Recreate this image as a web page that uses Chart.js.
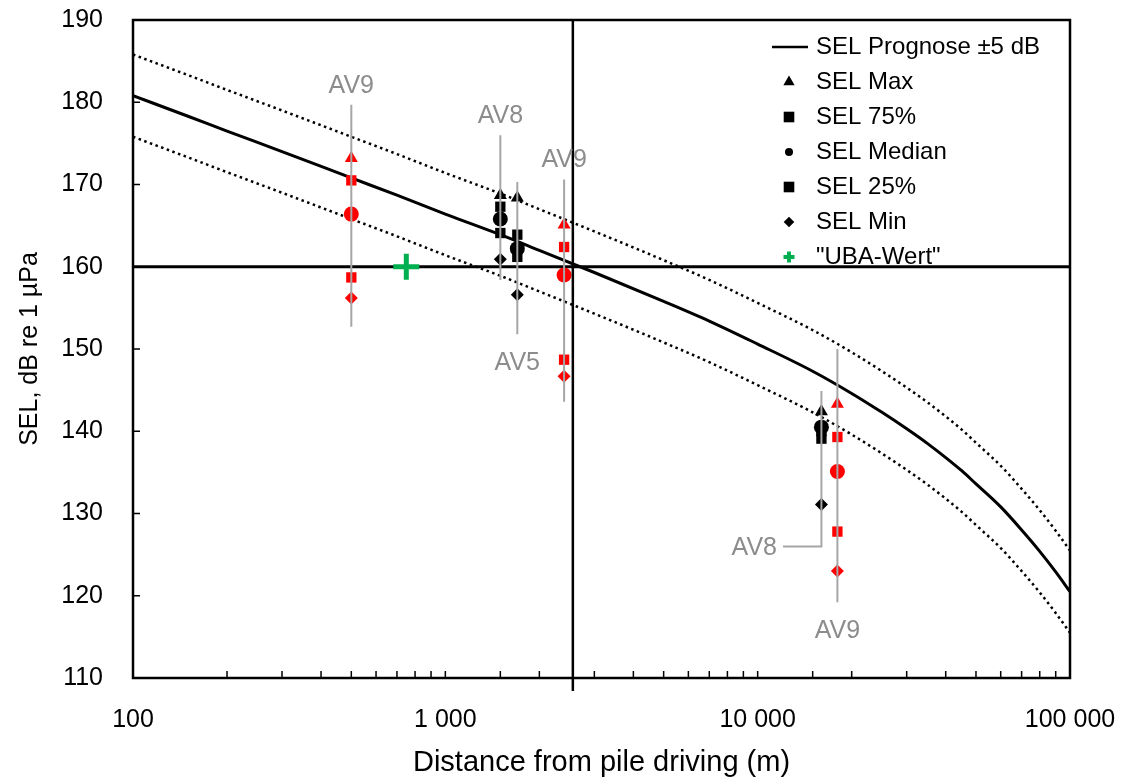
<!DOCTYPE html>
<html>
<head>
<meta charset="utf-8">
<script src="https://cdn.jsdelivr.net/npm/chart.js@4.4.0/dist/chart.umd.min.js"></script>
<style>
  html, body { margin: 0; padding: 0; background: #fff; }
</style>
</head>
<body>
<canvas id="chart" width="1128" height="780"></canvas>
<script>
// SEL prognosis curve (+/- 5 dB band)
const progDist  = [100, 150, 200, 300, 500, 700, 1000, 1500, 2000, 3000, 5000, 7000, 10000, 15000, 20000, 25000, 30000, 35000, 40000, 45000, 50000, 60000, 70000, 80000, 90000, 100000];
const progSel   = [180.8, 178.3, 176.5, 174.0, 170.8, 168.7, 166.4, 163.9, 162.0, 159.3, 155.8, 153.4, 150.6, 147.3, 144.6, 142.3, 140.3, 138.5, 136.8, 135.2, 133.6, 130.8, 128.0, 125.4, 122.9, 120.5];
const progUpper = [185.8, 183.3, 181.5, 179.0, 175.8, 173.7, 171.4, 168.9, 167.0, 164.3, 160.8, 158.4, 155.6, 152.3, 149.6, 147.3, 145.3, 143.5, 141.8, 140.2, 138.6, 135.8, 133.0, 130.4, 127.9, 125.5];
const progLower = [175.8, 173.3, 171.5, 169.0, 165.8, 163.7, 161.4, 158.9, 157.0, 154.3, 150.8, 148.4, 145.6, 142.3, 139.6, 137.3, 135.3, 133.5, 131.8, 130.2, 128.6, 125.8, 123.0, 120.4, 117.9, 115.5];

// measurements per campaign
const campaigns = ['AV9', 'AV8', 'AV5', 'AV9', 'AV8', 'AV9'];
const campDist  = [500, 1500, 1700, 2400, 16000, 18000];
const selMax    = [173.2, 168.7, 168.4, 165.1, 142.4, 143.3];
const sel75     = [170.5, 167.3, 163.9, 162.4, 140.0, 139.3];
const selMedian = [166.4, 165.8, 162.2, 159.0, 140.5, 135.1];
const sel25     = [158.7, 164.1, 161.2, 148.7, 139.1, 127.8];
const selMin    = [156.2, 160.9, 156.6, 146.7, 131.1, 123.0];

// grey range bars with the campaign names
const barTop    = [179.7, 176.0, 170.3, 170.6, 144.9, 150.0];
const barBottom = [152.7, 158.4, 151.8, 143.6, 126.0, 119.2];
const labelSide = ['top', 'top', 'bottom', 'top', 'left', 'bottom'];
const leaderEnd = 12050;

const ubaDist = [750];
const ubaSel  = [160];
const limitSel  = 160;
const limitDist = 2560;

const FONT = "'Liberation Sans', Arial, sans-serif";
const RED = '#ff0000';
const GREY = '#a6a6a6';

const pts = (xs, ys) => xs.map((x, i) => ({ x: x, y: ys[i] }));
const markColors = campaigns.map(c => c === 'AV9' ? RED : '#000000');

function markerSet(label, values, style, radius, legendRadius) {
  return {
    label: label,
    data: pts(campDist, values),
    pointStyle: style,
    pointRadius: radius,
    pointBackgroundColor: markColors,
    pointBorderColor: markColors,
    pointBorderWidth: 0,
    showLine: false,
    order: 5,
    legendStyle: style,
    legendRadius: legendRadius
  };
}

const datasets = [];

// range bars (drawn over the markers, as in the original)
campaigns.forEach((c, i) => {
  const d = [{ x: campDist[i], y: barTop[i] }, { x: campDist[i], y: barBottom[i] }];
  if (labelSide[i] === 'left') d.push({ x: leaderEnd, y: barBottom[i] });
  datasets.push({
    label: c, data: d, showLine: true, borderColor: GREY, borderWidth: 2,
    pointRadius: 0, order: 1, tension: 0
  });
});

datasets.push(markerSet('SEL Max', selMax, 'triangle', 7.5, 6.5));
datasets.push(markerSet('SEL 75%', sel75, 'rect', 7.3, 7.5));
datasets.push(markerSet('SEL Median', selMedian, 'circle', 7.5, 4));
datasets.push(markerSet('SEL 25%', sel25, 'rect', 7.3, 7.5));
datasets.push(markerSet('SEL Min', selMin, 'rectRot', 6.5, 5.3));

datasets.push({
  label: '"UBA-Wert"', data: pts(ubaDist, ubaSel), pointStyle: 'cross', pointRadius: 13,
  pointBorderColor: '#00b050', pointBorderWidth: 5, showLine: false, order: 4,
  legendStyle: 'cross', legendRadius: 5.5, legendWidth: 4, legendColor: '#00b050'
});

datasets.push({
  label: 'SEL Prognose ±5 dB', data: pts(progDist, progSel), showLine: true,
  borderColor: '#000', borderWidth: 3, pointRadius: 0, cubicInterpolationMode: 'monotone',
  order: 8, legendStyle: 'line'
});
datasets.push({
  label: 'upper', data: pts(progDist, progUpper), showLine: true, borderColor: '#000',
  borderWidth: 2.5, borderDash: [2.5, 3.5], pointRadius: 0, cubicInterpolationMode: 'monotone', order: 8
});
datasets.push({
  label: 'lower', data: pts(progDist, progLower), showLine: true, borderColor: '#000',
  borderWidth: 2.5, borderDash: [2.5, 3.5], pointRadius: 0, cubicInterpolationMode: 'monotone', order: 8
});
datasets.push({
  label: 'limit', data: [{ x: 100, y: limitSel }, { x: 100000, y: limitSel }], showLine: true,
  borderColor: '#000', borderWidth: 3, pointRadius: 0, order: 9
});

// frame, inner ticks, limit line, bar labels and legend
const extras = {
  id: 'extras',
  afterDatasetsDraw(chart) {
    const ctx = chart.ctx;
    const a = chart.chartArea;
    const xs = chart.scales.x, ys = chart.scales.y;
    ctx.save();

    // vertical limit line, runs a bit below the axis
    const lx = xs.getPixelForValue(limitDist);
    ctx.strokeStyle = '#000';
    ctx.lineWidth = 2.5;
    ctx.beginPath();
    ctx.moveTo(lx, a.top);
    ctx.lineTo(lx, a.bottom + 13);
    ctx.stroke();

    // frame
    ctx.lineWidth = 2.5;
    ctx.strokeRect(a.left, a.top, a.right - a.left, a.bottom - a.top);

    // inner tick marks
    ctx.lineWidth = 1.5;
    ctx.beginPath();
    ys.ticks.forEach(t => {
      const y = ys.getPixelForValue(t.value);
      ctx.moveTo(a.left, y);
      ctx.lineTo(a.left + 7, y);
    });
    xs.ticks.forEach(t => {
      const x = xs.getPixelForValue(t.value);
      ctx.moveTo(x, a.bottom);
      ctx.lineTo(x, a.bottom - 7);
    });
    ctx.stroke();

    // campaign labels
    ctx.fillStyle = '#8c8c8c';
    ctx.font = '25px ' + FONT;
    ctx.textBaseline = 'middle';
    campaigns.forEach((c, i) => {
      const x = xs.getPixelForValue(campDist[i]);
      if (labelSide[i] === 'top') {
        ctx.textAlign = 'center';
        ctx.fillText(c, x, ys.getPixelForValue(barTop[i]) - 19);
      } else if (labelSide[i] === 'bottom') {
        ctx.textAlign = 'center';
        ctx.fillText(c, x, ys.getPixelForValue(barBottom[i]) + 29);
      } else {
        ctx.textAlign = 'right';
        ctx.fillText(c, xs.getPixelForValue(leaderEnd) - 6, ys.getPixelForValue(barBottom[i]) + 2);
      }
    });

    // legend
    const mx = a.right - 281, tx = a.right - 254;
    let ly = a.top + 27;
    ctx.font = '24px ' + FONT;
    ctx.textAlign = 'left';
    const entries = chart.data.datasets.filter(d => d.legendStyle);
    const order = ['SEL Prognose ±5 dB', 'SEL Max', 'SEL 75%', 'SEL Median', 'SEL 25%', 'SEL Min', '"UBA-Wert"'];
    order.forEach(name => {
      const d = entries.find(e => e.label === name);
      if (!d) return;
      if (d.legendStyle === 'line') {
        ctx.strokeStyle = '#000';
        ctx.lineWidth = 2.5;
        ctx.beginPath();
        ctx.moveTo(mx - 17, ly);
        ctx.lineTo(mx + 19, ly);
        ctx.stroke();
      } else {
        const col = d.legendColor || '#000';
        ctx.fillStyle = col;
        ctx.strokeStyle = col;
        ctx.lineWidth = d.legendWidth || 0;
        Chart.helpers.drawPoint(ctx, {
          pointStyle: d.legendStyle, radius: d.legendRadius, rotation: 0,
          borderWidth: d.legendWidth || 0
        }, mx, ly);
      }
      ctx.fillStyle = '#000';
      ctx.fillText(d.label, tx, ly);
      ly += 35;
    });
    ctx.restore();
  }
};

const fmt = v => String(v).replace(/\B(?=(\d{3})+(?!\d))/g, ' ');
const isDecade = v => Math.abs(Math.log10(v) - Math.round(Math.log10(v))) < 1e-9;

new Chart(document.getElementById('chart'), {
  type: 'scatter',
  data: { datasets: datasets },
  options: {
    responsive: false,
    animation: false,
    layout: { padding: { left: 0, right: 58, top: 20, bottom: 0 } },
    plugins: { legend: { display: false }, tooltip: { enabled: false } },
    scales: {
      x: {
        type: 'logarithmic', min: 100, max: 100000,
        grid: { display: false, drawTicks: false },
        border: { display: false },
        ticks: {
          autoSkip: false, maxRotation: 0, padding: 27, color: '#000',
          font: { family: FONT, size: 25 },
          callback: v => isDecade(v) ? fmt(v) : ''
        },
        title: {
          display: true, text: 'Distance from pile driving (m)', color: '#000',
          font: { family: FONT, size: 29 }, padding: { top: 0, bottom: 0 }
        },
        afterFit: s => { s.height = 102; s.paddingLeft = 0; s.paddingRight = 0; }
      },
      y: {
        min: 110, max: 190,
        grid: { display: false, drawTicks: false },
        border: { display: false },
        ticks: { stepSize: 10, padding: 30, color: '#000', font: { family: FONT, size: 25 } },
        title: {
          display: true, text: 'SEL, dB re 1 µPa', color: '#000',
          font: { family: FONT, size: 25 }, padding: { top: 15, bottom: 0 }
        },
        afterFit: s => { s.width = 133; s.paddingTop = 0; s.paddingBottom = 0; }
      }
    }
  },
  plugins: [extras]
});
</script>
</body>
</html>
